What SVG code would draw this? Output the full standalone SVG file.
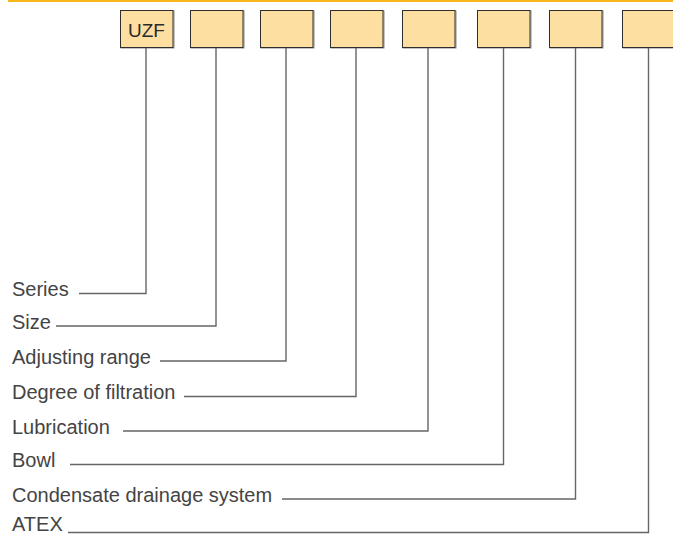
<svg xmlns="http://www.w3.org/2000/svg" width="673" height="535" viewBox="0 0 673 535">
<style>
.bar{fill:#f6b71c}
.box{fill:#fddfa1;stroke:#2e2e2e;stroke-width:1}
.shadow{fill:none;stroke:#8a8a8a;stroke-width:1}
.code{font-family:"Liberation Sans",Arial,sans-serif;font-size:19px;fill:#2a2a2a;text-anchor:middle}
.lbl{font-family:"Liberation Sans",Arial,sans-serif;font-size:20px;fill:#444}
.conn{fill:none;stroke:#666;stroke-width:1.4}
</style>
<rect class="bar" x="8" y="0" width="665" height="2"/>
<g id="box1"><rect class="shadow" x="121" y="11" width="53" height="37"/><rect class="box" x="120.5" y="10.5" width="52.5" height="37"/><text class="code" x="146.5" y="36.5">UZF</text></g>
<g id="box2"><rect class="shadow" x="191" y="11" width="53" height="37"/><rect class="box" x="190.5" y="10.5" width="52.5" height="37"/></g>
<g id="box3"><rect class="shadow" x="261" y="11" width="53" height="37"/><rect class="box" x="260.5" y="10.5" width="52.5" height="37"/></g>
<g id="box4"><rect class="shadow" x="331" y="11" width="53" height="37"/><rect class="box" x="330.5" y="10.5" width="52.5" height="37"/></g>
<g id="box5"><rect class="shadow" x="403" y="11" width="53" height="37"/><rect class="box" x="402.5" y="10.5" width="52.5" height="37"/></g>
<g id="box6"><rect class="shadow" x="478" y="11" width="53" height="37"/><rect class="box" x="477.5" y="10.5" width="52.5" height="37"/></g>
<g id="box7"><rect class="shadow" x="550" y="11" width="53" height="37"/><rect class="box" x="549.5" y="10.5" width="52.5" height="37"/></g>
<g id="box8"><rect class="shadow" x="623" y="11" width="53" height="37"/><rect class="box" x="622.5" y="10.5" width="53" height="37"/></g>
<g id="connectors">
<polyline class="conn" points="79,293.5 146,293.5 146,48"/>
<polyline class="conn" points="56,326 216,326 216,48"/>
<polyline class="conn" points="160,361 286,361 286,48"/>
<polyline class="conn" points="184,396.5 356,396.5 356,48"/>
<polyline class="conn" points="123,431 428,431 428,48"/>
<polyline class="conn" points="70,464.5 503.5,464.5 503.5,48"/>
<polyline class="conn" points="282,499 575.5,499 575.5,48"/>
<polyline class="conn" points="68,532.5 648.5,532.5 648.5,48"/>
</g>
<g id="labels">
<text class="lbl" x="12" y="296">Series</text>
<text class="lbl" x="12" y="328.5">Size</text>
<text class="lbl" x="12" y="363.5">Adjusting range</text>
<text class="lbl" x="12" y="399">Degree of filtration</text>
<text class="lbl" x="12" y="433.5">Lubrication</text>
<text class="lbl" x="12" y="467">Bowl</text>
<text class="lbl" x="12" y="501.5">Condensate drainage system</text>
<text class="lbl" x="12" y="530.5">ATEX</text>
</g>
</svg>
